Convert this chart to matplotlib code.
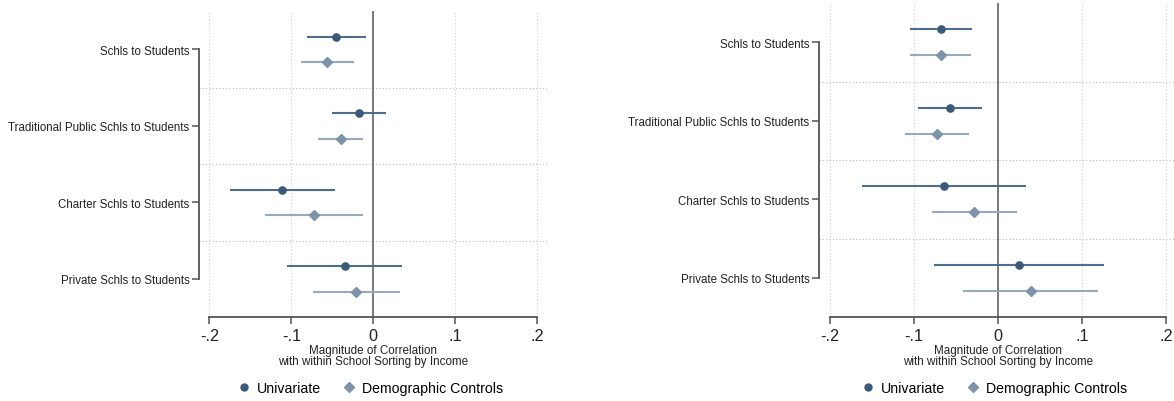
import numpy as np
import matplotlib
matplotlib.use("Agg")
import matplotlib.pyplot as plt
from matplotlib.lines import Line2D
from matplotlib.transforms import blended_transform_factory

plt.rcParams["font.family"] = ["Liberation Sans", "DejaVu Sans"]

# categorias (de cima para baixo)
categories = ["Schls to Students", "Traditional Public Schls to Students",
              "Charter Schls to Students", "Private Schls to Students"]
tick_vals = [-0.2, -0.1, 0.0, 0.1, 0.2]
tick_labels = ["-.2", "-.1", "0", ".1", ".2"]

# painel esquerdo
left_uni = [-0.045, -0.018, -0.111, -0.035]
left_uni_lo = [-0.081, -0.051, -0.175, -0.105]
left_uni_hi = [-0.009, 0.016, -0.047, 0.035]
left_demo = [-0.056, -0.040, -0.072, -0.021]
left_demo_lo = [-0.088, -0.068, -0.132, -0.074]
left_demo_hi = [-0.024, -0.012, -0.012, 0.033]

# painel direito
right_uni = [-0.068, -0.057, -0.064, 0.025]
right_uni_lo = [-0.105, -0.095, -0.161, -0.076]
right_uni_hi = [-0.031, -0.019, 0.033, 0.126]
right_demo = [-0.068, -0.072, -0.028, 0.039]
right_demo_lo = [-0.105, -0.110, -0.078, -0.041]
right_demo_hi = [-0.032, -0.034, 0.023, 0.119]

UNI_MK = "#3b5a7a"
UNI_LN = "#4f6c8b"
DEMO_MK = "#7d93aa"
DEMO_LN = "#97a9bd"
AXC = "#555555"


def panel(ax, uni, ulo, uhi, demo, dlo, dhi, xlim):
    rows = np.arange(len(categories))
    off = 1 / 6

    # grade e separadores
    for v in tick_vals:
        if v != 0:
            ax.axvline(v, color="#cfcfcf", lw=0.8, ls=(0, (1, 2)), zorder=0)
    for s in rows[:-1] + 0.5:
        ax.axhline(s, color="#bdbdbd", lw=0.8, ls=(0, (1, 2)), zorder=0)
    ax.axvline(0, color=AXC, lw=1.1, zorder=1)

    uni = np.array(uni)
    demo = np.array(demo)
    ax.errorbar(uni, rows - off, xerr=[uni - np.array(ulo), np.array(uhi) - uni],
                fmt="none", ecolor=UNI_LN, elinewidth=1.5, capsize=0, zorder=2)
    ax.plot(uni, rows - off, "o", color=UNI_MK, ms=5.2, zorder=3)
    ax.errorbar(demo, rows + off, xerr=[demo - np.array(dlo), np.array(dhi) - demo],
                fmt="none", ecolor=DEMO_LN, elinewidth=1.5, capsize=0, zorder=2)
    ax.plot(demo, rows + off, "D", color=DEMO_MK, ms=5.2, zorder=3)

    ax.set_xlim(*xlim)
    ax.set_ylim(3.5, -0.5)
    ax.set_yticks(rows)
    ax.set_yticklabels(categories, fontsize=8.3, color="#222222")
    ax.set_xticks(tick_vals)
    ax.set_xticklabels(tick_labels, fontsize=11.7, color="#222222")
    ax.tick_params(axis="y", length=5, width=1.1, color=AXC, pad=2)
    ax.tick_params(axis="x", length=5, width=1.1, color=AXC, pad=3)
    for sp in ["top", "right"]:
        ax.spines[sp].set_visible(False)
    ax.spines["left"].set_bounds(0, 3)
    ax.spines["bottom"].set_bounds(-0.2, 0.2)
    for sp in ["left", "bottom"]:
        ax.spines[sp].set_color(AXC)
        ax.spines[sp].set_linewidth(1.3)

    tr = blended_transform_factory(ax.transData, fig.transFigure)
    ax.text(0, 0.113, "Magnitude of Correlation\nwith within School Sorting by Income",
            transform=tr, ha="center", va="center", fontsize=8.4,
            color="#222222", linespacing=0.95)

    handles = [Line2D([], [], marker="o", ls="none", color=UNI_MK, ms=5),
               Line2D([], [], marker="D", ls="none", color=DEMO_MK, ms=5)]
    ax.legend(handles, ["Univariate", "Demographic Controls"], ncol=2,
              frameon=False, fontsize=10.2, handlelength=0.8, handletextpad=0.5,
              columnspacing=1.6, loc="center",
              bbox_to_anchor=(0.5, 0.0, 0, 0), bbox_transform=blended_transform_factory(ax.transAxes, fig.transFigure))


fig = plt.figure(figsize=(11.74, 4.02), dpi=100)
ax1 = fig.add_axes([199 / 1174, 84 / 402, 348 / 1174, 306 / 402])
ax2 = fig.add_axes([819 / 1174, 84 / 402, 355 / 1174, 314 / 402])

panel(ax1, left_uni, left_uni_lo, left_uni_hi, left_demo, left_demo_lo, left_demo_hi,
      (-0.2126, 0.2118))
panel(ax2, right_uni, right_uni_lo, right_uni_hi, right_demo, right_demo_lo, right_demo_hi,
      (-0.2127, 0.2095))

# posicao vertical das legendas
for ax in (ax1, ax2):
    leg = ax.get_legend()
    leg.set_bbox_to_anchor((0.494, 13 / 402, 0, 0),
                           transform=blended_transform_factory(ax.transAxes, fig.transFigure))

fig.savefig("out.png", dpi=100)
